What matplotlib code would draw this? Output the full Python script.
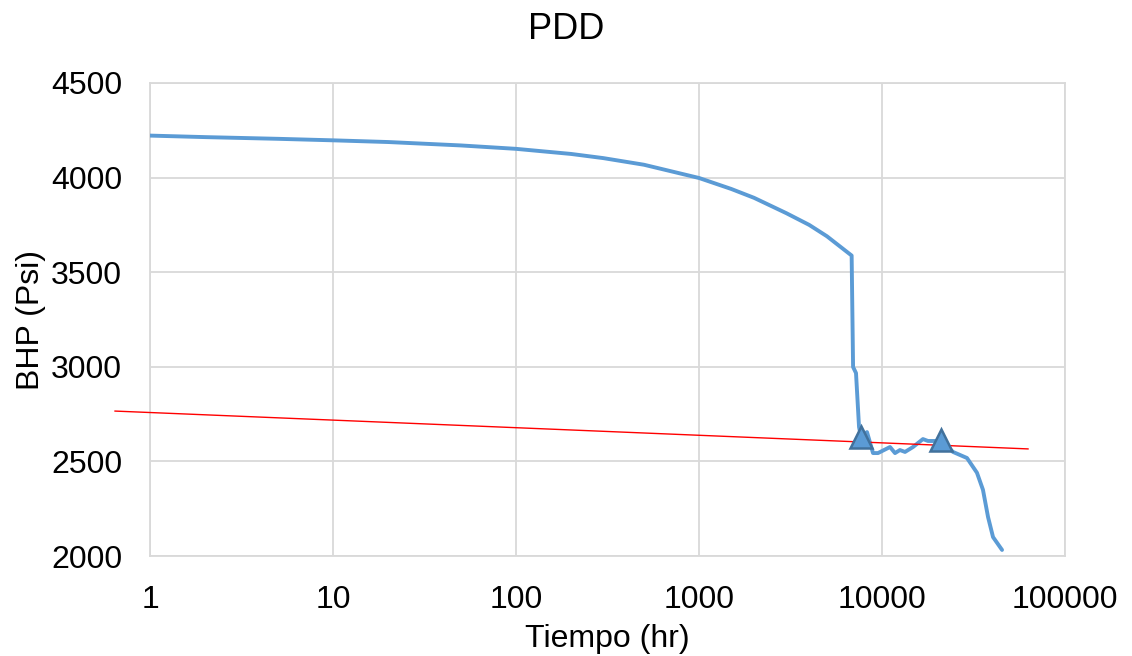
import matplotlib
matplotlib.use("Agg")
import matplotlib.pyplot as plt
from matplotlib.ticker import FixedLocator, FixedFormatter

plt.rcParams['font.family'] = ['Liberation Sans', 'DejaVu Sans']

# Blue BHP curve (time in hr, pressure in psi)
time_hr = [1, 2, 5, 10, 20, 50, 100, 200, 300, 500, 1000, 1500, 2000, 3000, 4000, 5000,
           6825, 6950, 7210, 7490, 7680, 8280, 8930, 9510, 11060, 11780, 12530, 13360,
           14770, 16740, 17830, 20230, 21000, 24430, 29130, 33030, 35620, 37970,
           40430, 45290]
bhp_psi = [4222, 4214, 4205, 4197, 4188, 4170, 4152, 4125, 4103, 4068, 3998, 3940,
           3893, 3812, 3750, 3690, 3588, 2999, 2967, 2682, 2629, 2655, 2544, 2544,
           2576, 2544, 2560, 2550, 2576, 2618, 2608, 2608, 2610, 2550, 2518, 2440,
           2350, 2206, 2100, 2032]

# Triangle markers
marker_time = [7680, 21000]
marker_bhp = [2630, 2613]

# Red trend line endpoints
trend_time = [0.644, 62800]
trend_bhp = [2766, 2566]

x_ticks = [1, 10, 100, 1000, 10000, 100000]
x_labels = ["1", "10", "100", "1000", "10000", "100000"]
y_ticks = [2000, 2500, 3000, 3500, 4000, 4500]

fig = plt.figure(figsize=(11.32, 6.56), dpi=100)
ax = fig.add_axes([150/1132, 100/656, (1065-150)/1132, (556-83)/656])

grid_c = "#D9D9D9"
ax.set_xscale("log")
ax.set_xlim(1, 100000)
ax.set_ylim(2000, 4500)
ax.xaxis.set_major_locator(FixedLocator(x_ticks))
ax.xaxis.set_major_formatter(FixedFormatter(x_labels))
ax.xaxis.set_minor_locator(FixedLocator([]))
ax.set_yticks(y_ticks)
ax.grid(True, color=grid_c, linewidth=1.3)
ax.set_axisbelow(True)
for s in ax.spines.values():
    s.set_color(grid_c)
    s.set_linewidth(1.3)
ax.tick_params(length=0, labelsize=23)
ax.tick_params(axis="x", pad=21)
ax.tick_params(axis="y", pad=20)

ax.plot(time_hr, bhp_psi, color="#5B9BD5", linewidth=2.8, solid_joinstyle="round",
        solid_capstyle="round", zorder=3)
ax.plot(trend_time, trend_bhp, color="#FF0000", linewidth=1.0, clip_on=False, zorder=4)
ax.plot(marker_time, marker_bhp, linestyle="none", marker="^", markersize=16,
        markerfacecolor="#5B9BD5", markeredgecolor="#41719C", markeredgewidth=1.8, zorder=5)

ax.set_xlabel("Tiempo (hr)", fontsize=23, labelpad=6)
ax.set_ylabel("BHP (Psi)", fontsize=23, labelpad=4)
fig.suptitle("PDD", fontsize=26, y=1 - 12/656, va="top")

fig.savefig("out.png", dpi=100)
